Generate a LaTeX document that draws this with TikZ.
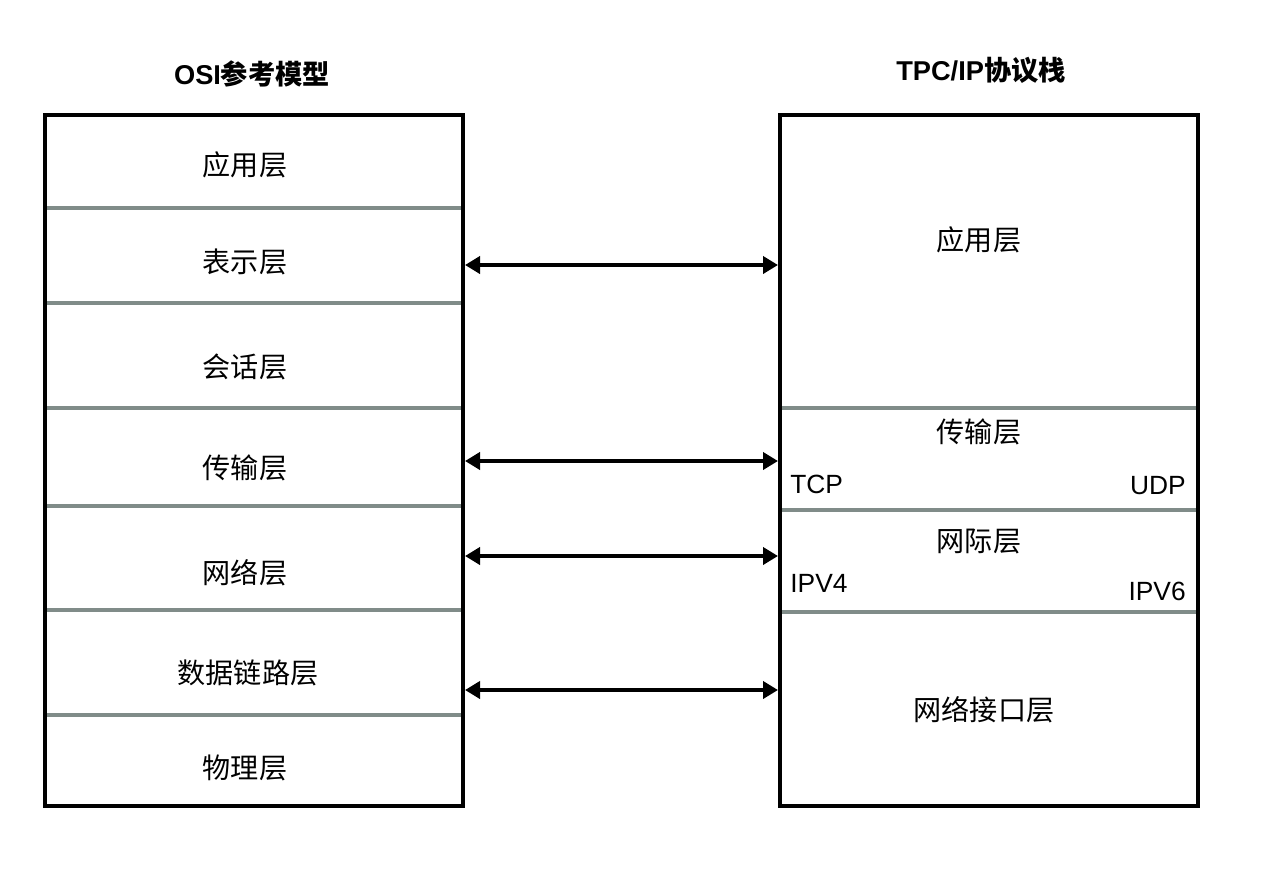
\documentclass[tikz,border=0pt]{standalone}
\usepackage{fontspec}
\setmainfont{Liberation Sans}
\newfontfamily\cjk{Noto Sans CJK SC}
\usetikzlibrary{arrows.meta}
\definecolor{sepgray}{RGB}{128,140,137}
\tikzset{
    layer/.style={font=\cjk\fontsize{16}{19}\selectfont, inner sep=0pt},
    proto/.style={font=\fontsize{15}{18}\selectfont, inner sep=0pt},
    title/.style={font=\bfseries\fontsize{15.5}{18}\selectfont, inner sep=0pt},
    sep/.style={draw=sepgray, line width=2.4pt},
    frame/.style={draw=black, line width=2pt},
    link/.style={{Triangle[length=0.3cm,width=0.34cm]}-{Triangle[length=0.3cm,width=0.34cm]}, line width=2.2pt}
}
\begin{document}
\begin{tikzpicture}[x=0.02cm, y=-0.02cm]
            \useasboundingbox (0,0) rectangle (1272,880);

            % titles
            \node[title] (osit) at (252, 74) {OSI{\cjk\bfseries 参考模型}};
            \node[title] (tcpt) at (981, 70) {TPC/IP{\cjk\bfseries 协议栈}};

            % OSI side
            \draw[sep] (45, 208) -- (463, 208);
            \draw[sep] (45, 303) -- (463, 303);
            \draw[sep] (45, 408) -- (463, 408);
            \draw[sep] (45, 506) -- (463, 506);
            \draw[sep] (45, 610) -- (463, 610);
            \draw[sep] (45, 715) -- (463, 715);
            \draw[frame] (45, 115) rectangle (463, 806);

            \node[layer] (o1) at (245, 165) {应用层};
            \node[layer] (o2) at (245, 262) {表示层};
            \node[layer] (o3) at (245, 367) {会话层};
            \node[layer] (o4) at (245, 468) {传输层};
            \node[layer] (o5) at (245, 573) {网络层};
            \node[layer] (o6) at (248, 673) {数据链路层};
            \node[layer] (o7) at (245, 768) {物理层};

            % TCP/IP side
            \draw[sep] (780, 408) -- (1198, 408);
            \draw[sep] (780, 510) -- (1198, 510);
            \draw[sep] (780, 612) -- (1198, 612);
            \draw[frame] (780, 115) rectangle (1198, 806);

            \node[layer] (t1) at (979, 240) {应用层};
            \node[layer] (t2) at (979, 432) {传输层};
            \node[proto, anchor=west] (tcp) at (790, 484) {TCP};
            \node[proto, anchor=east] (udp) at (1186, 486) {UDP};
            \node[layer] (t3) at (979, 541) {网际层};
            \node[proto, anchor=west] (ipv4) at (790, 583) {IPV4};
            \node[proto, anchor=east] (ipv6) at (1186, 591) {IPV6};
            \node[layer] (t4) at (984, 710) {网络接口层};

            % links
            \coordinate (a1) at (465, 265);
            \coordinate (a2) at (465, 461);
            \coordinate (a3) at (465, 556);
            \coordinate (a4) at (465, 690);
            \coordinate (b1) at (778, 265);
            \coordinate (b2) at (778, 461);
            \coordinate (b3) at (778, 556);
            \coordinate (b4) at (778, 690);

            \draw[link] (a1) to (b1);
            \draw[link] (a2) to (b2);
            \draw[link] (a3) to (b3);
            \draw[link] (a4) to (b4);
        \end{tikzpicture}
\end{document}
